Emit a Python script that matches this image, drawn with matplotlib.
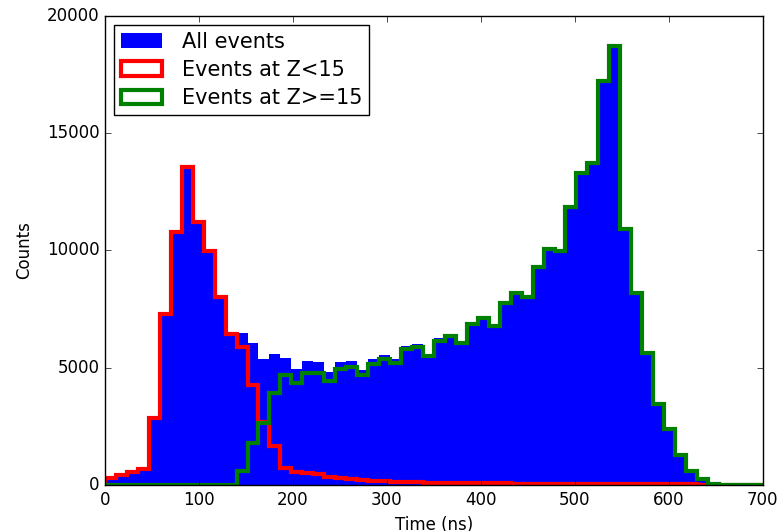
import numpy as np
import matplotlib
matplotlib.use("Agg")
import matplotlib.pyplot as plt

plt.style.use("classic")
plt.rcParams["font.family"] = ["DejaVu Sans"]

# 60 time bins spanning 0-700 ns
bin_edges = np.linspace(0, 700, 61)
bin_centers = 0.5 * (bin_edges[:-1] + bin_edges[1:])

# Counts per bin for events at Z<15
counts_low_z = [
    290, 426, 540, 670, 2850, 7280, 10800, 13550, 11200, 9990,
    8000, 6450, 5900, 4260, 2700, 1660, 710, 570, 525, 470,
    355, 285, 250, 215, 190, 165, 145, 130, 115, 105,
    95, 90, 85, 80, 75, 70, 65, 62, 60, 58,
    55, 52, 50, 48, 45, 42, 40, 38, 35, 32,
    30, 28, 25, 22, 20, 0, 0, 0, 0, 0,
]

# Counts per bin for events at Z>=15
counts_high_z = [
    0, 0, 0, 0, 0, 0, 0, 0, 0, 0,
    0, 0, 600, 1780, 2660, 3910, 4690, 4360, 4760, 4790,
    4450, 4940, 5020, 4690, 5170, 5390, 5220, 5785, 5900, 5500,
    6155, 6340, 6050, 6850, 7110, 6795, 7750, 8175, 8000, 9310,
    10050, 9980, 11870, 13290, 13720, 17240, 18735, 10920, 8200, 5640,
    3455, 2390, 1280, 610, 240, 60, 20, 10, 5, 2,
]

counts_all = np.array(counts_low_z) + np.array(counts_high_z)

fig = plt.figure(figsize=(7.8, 5.31), dpi=100, facecolor="white")
ax = fig.add_axes([0.1346, 0.0866, 0.978 - 0.1346, 0.9699 - 0.0866])

ax.hist(bin_centers, bins=bin_edges, weights=counts_all, histtype="stepfilled",
        color="blue", linewidth=0, label="All events")
ax.hist(bin_centers, bins=bin_edges, weights=counts_low_z, histtype="step",
        color="red", linewidth=3, label="Events at Z<15")
ax.hist(bin_centers, bins=bin_edges, weights=counts_high_z, histtype="step",
        color="green", linewidth=3, label="Events at Z>=15")

ax.set_xlim(0, 700)
ax.set_ylim(0, 20000)
ax.set_xticks(np.arange(0, 701, 100))
ax.set_yticks(np.arange(0, 20001, 5000))
ax.set_xlabel("Time (ns)")
ax.set_ylabel("Counts", labelpad=10)

ax.legend(loc="upper left", fontsize=15, frameon=True, fancybox=False,
          borderpad=0.3, labelspacing=0.4, handletextpad=0.95,
          borderaxespad=0.45)

fig.savefig("out.png", dpi=100, facecolor="white")
